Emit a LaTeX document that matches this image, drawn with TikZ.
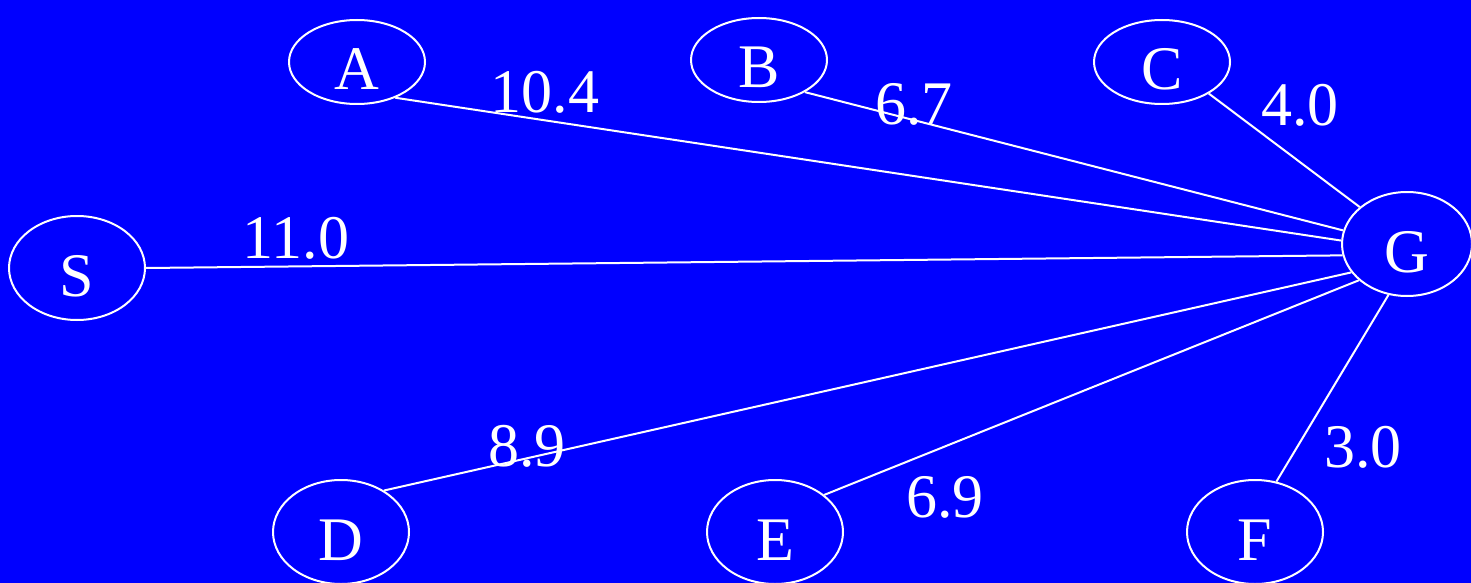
\documentclass[tikz,border=0pt]{standalone}
\usepackage{fontspec}
\usetikzlibrary{shapes.geometric}
\setmainfont{Liberation Serif}
\definecolor{slideBlue}{RGB}{0,0,255}
\newcommand{\gCell}[1]{\fontsize{62}{62}\selectfont #1}

\begin{document}
\begin{tikzpicture}[x=1pt,y=-1pt,
  city/.style={draw=white, line width=2pt, ellipse, minimum width=136pt, minimum height=84pt, inner sep=0pt, text=white, text height=56pt, text depth=0pt},
  bigcity/.style={city, minimum width=130pt, minimum height=104pt},
  road/.style={draw=white, line width=2pt},
  dist/.style={inner sep=0pt, text=white}]
\fill[slideBlue] (0,0) rectangle (1471,583);
\useasboundingbox (0,0) rectangle (1471,583);
\node[city] (A) at (357,62) {\gCell{A}};
\node[city] (B) at (759,60) {\gCell{B}};
\node[city] (C) at (1162,62) {\gCell{C}};
\node[bigcity] (G) at (1407,244) {\gCell{G}};
\node[bigcity, minimum width=136pt] (S) at (77,268) {\gCell{S}};
\node[bigcity, minimum width=136pt] (D) at (341,532) {\gCell{D}};
\node[bigcity, minimum width=136pt] (E) at (775,532) {\gCell{E}};
\node[bigcity, minimum width=136pt] (F) at (1255,532) {\gCell{F}};
\draw[road] (A.-43) -- (G.177);
\draw[road] (B.-35) -- (G.168);
\draw[road] (C.-34) -- (G.142);
\draw[road] (S.0) -- (G.190);
\draw[road] (D.44) -- (G.207);
\draw[road] (E.37) -- (G.217);
\draw[road] (F.67) -- (G.250);
\node[dist] (dA) at (545,92) {\gCell{10.4}};
\node[dist] (dB) at (914,104) {\gCell{6.7}};
\node[dist] (dC) at (1300,105) {\gCell{4.0}};
\node[dist] (dS) at (296,238) {\gCell{11.0}};
\node[dist] (dD) at (527,446) {\gCell{8.9}};
\node[dist] (dE) at (945,497) {\gCell{6.9}};
\node[dist] (dF) at (1363,447) {\gCell{3.0}};
\end{tikzpicture}
\end{document}
